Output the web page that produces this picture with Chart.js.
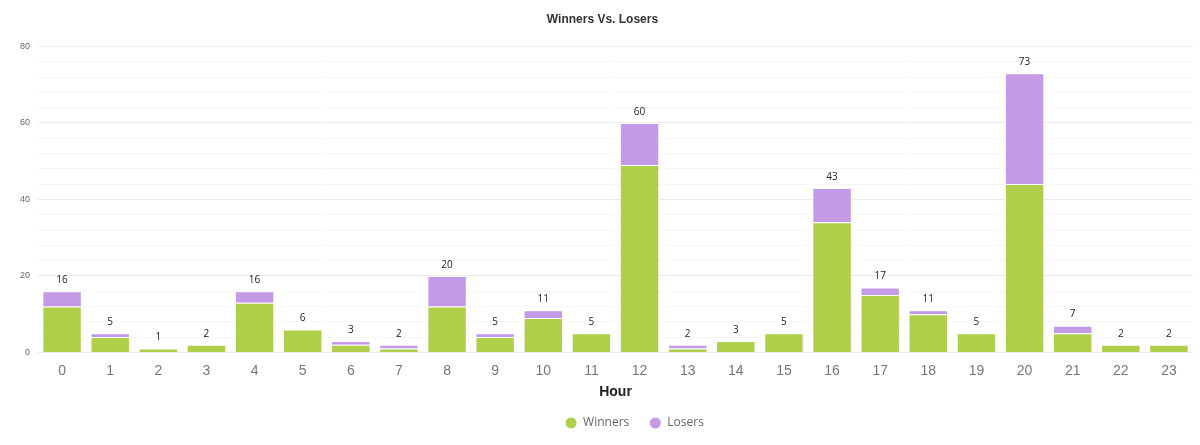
<!DOCTYPE html>
<html>
<head>
<meta charset="utf-8">
<script src="https://cdn.jsdelivr.net/npm/chart.js@4"></script>
<style>
    html, body { margin: 0; padding: 0; background: #fff; }
    #wrap { width: 1200px; height: 445px; }
</style>
</head>
<body>
<div id="wrap"><canvas id="winnersChart"></canvas></div>
<script>
// Data
var hours = ['0', '1', '2', '3', '4', '5', '6', '7', '8', '9', '10', '11', '12', '13', '14', '15', '16', '17', '18', '19', '20', '21', '22', '23'];
var winners = [12, 4, 1, 2, 13, 6, 2, 1, 12, 4, 9, 5, 49, 1, 3, 5, 34, 15, 10, 5, 44, 5, 2, 2];
var losers = [4, 1, 0, 0, 3, 0, 1, 1, 8, 1, 2, 0, 11, 1, 0, 0, 9, 2, 1, 0, 29, 2, 0, 0];
var yTicks = [0, 20, 40, 60, 80];

// Totals above stacks
var totalsPlugin = {
    id: 'totals',
    afterDatasetsDraw: function (chart)
    {
        var ctx = chart.ctx;
        var meta = chart.getDatasetMeta(1);
        ctx.save();
        ctx.font = '10px "Open Sans", sans-serif';
        ctx.fillStyle = '#222';
        ctx.textAlign = 'center';
        ctx.textBaseline = 'middle';
        meta.data.forEach(function (bar, i)
        {
            var total = winners[i] + losers[i];
            var y = chart.scales.y.getPixelForValue(total);
            ctx.fillText(total, bar.x, y - 11);
        });
        ctx.restore();
    }
};

// Nudge legend a bit (up and to the right)
var legendNudge = {
    id: 'legendNudge',
    afterLayout: function (chart)
    {
        chart.legend.top -= 4;
        chart.legend.left += 64;
    }
};

var ctx = document.getElementById('winnersChart').getContext('2d');
var myChart = new Chart(ctx,
{
    type: 'bar',
    data:
    {
        labels: hours,
        datasets: [
        {
            label: 'Winners',
            data: winners,
            backgroundColor: 'rgb(175, 207, 75)',
            borderColor: 'rgba(255, 255, 255, 0.8)',
            borderWidth: 1,
            barPercentage: 0.82,
            categoryPercentage: 1
        },
        {
            label: 'Losers',
            data: losers,
            backgroundColor: 'rgb(196, 153, 230)',
            borderColor: 'rgba(255, 255, 255, 0.8)',
            borderWidth: 1,
            barPercentage: 0.82,
            categoryPercentage: 1
        }]
    },
    options:
    {
        responsive: true,
        maintainAspectRatio: false,
        animation: false,
        layout: { padding: { left: 12, right: 7, top: 0, bottom: 2 } },
        plugins:
        {
            title:
            {
                display: true,
                text: 'Winners Vs. Losers',
                color: '#333',
                font: { family: 'Liberation Sans', size: 12, weight: 'bold' },
                padding: { top: 12, bottom: 20 }
            },
            legend:
            {
                position: 'bottom',
                labels:
                {
                    usePointStyle: true,
                    pointStyle: 'circle',
                    boxWidth: 12,
                    boxHeight: 8.3,
                    padding: 20,
                    color: '#666',
                    font: { family: '"Open Sans"', size: 12 }
                }
            },
            tooltip: { enabled: false }
        },
        scales:
        {
            x:
            {
                stacked: true,
                grid: { display: false },
                border: { display: false },
                ticks: { color: '#777', font: { family: 'Liberation Sans', size: 14 }, padding: 2 },
                title:
                {
                    display: true,
                    text: 'Hour',
                    color: '#222',
                    font: { family: 'Liberation Sans', size: 14, weight: 'bold' },
                    padding: { top: 3, bottom: 0 }
                }
            },
            y:
            {
                stacked: true,
                min: 0,
                max: 80,
                border: { display: false },
                ticks:
                {
                    stepSize: 4,
                    autoSkip: false,
                    color: '#666',
                    font: { family: 'Liberation Sans', size: 9 },
                    padding: 8,
                    callback: function (v)
                    {
                        return yTicks.indexOf(v) > -1 ? v : '';
                    }
                },
                grid:
                {
                    drawTicks: false,
                    color: function (c)
                    {
                        return yTicks.indexOf(c.tick.value) > -1 ? '#ebebeb' : '#f6f6f6';
                    }
                }
            }
        }
    },
    plugins: [totalsPlugin, legendNudge]
});
</script>
</body>
</html>
